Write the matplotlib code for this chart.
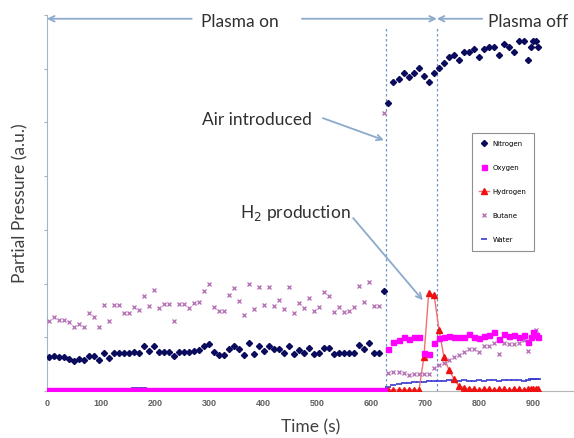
import numpy as np
import matplotlib
matplotlib.use("Agg")
import matplotlib.pyplot as plt

# sample times (s) before and after air was let in
t_before = [4, 13, 23, 32, 41, 50, 60, 69, 78, 87, 97, 106, 115, 124, 134, 143,
            152, 161, 171, 180, 189, 198, 208, 217, 226, 236, 245, 254, 263, 272,
            282, 291, 300, 309, 319, 328, 337, 346, 356, 365, 374, 383, 393, 402,
            411, 420, 430, 439, 448, 457, 467, 476, 485, 494, 504, 513, 522, 531,
            541, 550, 559, 568, 578, 587, 596, 605, 615, 624]
t_after = [632, 641, 651, 661, 670, 680, 689, 698, 707, 717, 726, 735, 744, 754,
           763, 772, 781, 791, 800, 809, 818, 828, 837, 846, 855, 865, 874, 883,
           891, 896, 900, 905, 909]

n2_before = [0.63, 0.65, 0.64, 0.64, 0.59, 0.565, 0.59, 0.58, 0.66, 0.65, 0.58, 0.70,
             0.61, 0.71, 0.71, 0.71, 0.71, 0.73, 0.71, 0.83, 0.75, 0.84, 0.73, 0.73,
             0.73, 0.66, 0.73, 0.73, 0.73, 0.75, 0.76, 0.83, 0.875, 0.73, 0.67, 0.67,
             0.78, 0.84, 0.78, 0.67, 0.89, 0.68, 0.84, 0.745, 0.84, 0.78, 0.78, 0.70,
             0.84, 0.68, 0.76, 0.70, 0.795, 0.68, 0.70, 0.795, 0.795, 0.68, 0.70, 0.70,
             0.70, 0.70, 0.86, 0.78, 0.89, 0.71, 0.71, 1.86]
n2_after = [5.36, 5.76, 5.80, 5.92, 5.85, 5.92, 6.01, 5.87, 5.76, 5.92, 6.01, 6.11,
            6.21, 6.26, 6.16, 6.31, 6.31, 6.36, 6.21, 6.36, 6.41, 6.41, 6.26, 6.46,
            6.41, 6.31, 6.52, 6.52, 6.16, 6.41, 6.52, 6.52, 6.41]

o2_before = [0.02, 0.01, 0.02, 0.02, 0.01, 0.02, 0.02, 0.01, 0.02, 0.02, 0.02, 0.01,
             0.02, 0.02, 0.01, 0.02, 0.02, 0.02, 0.01, 0.02, 0.02, 0.01, 0.02, 0.02,
             0.02, 0.01, 0.02, 0.02, 0.02, 0.01, 0.02, 0.02, 0.01, 0.02, 0.02, 0.02,
             0.01, 0.02, 0.02, 0.01, 0.02, 0.02, 0.02, 0.01, 0.02, 0.02, 0.01, 0.02,
             0.02, 0.02, 0.01, 0.02, 0.02, 0.01, 0.02, 0.02, 0.02, 0.01, 0.02, 0.02,
             0.01, 0.02, 0.02, 0.02, 0.01, 0.02, 0.02, 0.02]
o2_after = [0.79, 0.92, 0.95, 1.01, 0.96, 1.00, 1.01, 0.71, 0.69, 0.89, 0.98, 1.01,
            1.02, 1.01, 1.00, 1.01, 1.06, 1.01, 0.98, 1.02, 1.04, 1.10, 0.96, 1.06,
            1.02, 1.04, 1.01, 1.04, 0.92, 1.01, 1.09, 1.04, 1.00]

h2_after = [0.02, 0.02, 0.02, 0.02, 0.02, 0.02, 0.02, 0.63, 1.83, 1.78, 1.14, 0.64,
            0.40, 0.22, 0.09, 0.06, 0.04, 0.03, 0.02, 0.03, 0.03, 0.02, 0.03, 0.03,
            0.02, 0.03, 0.03, 0.02, 0.03, 0.04, 0.03, 0.03, 0.04]

c4_before = [1.31, 1.38, 1.32, 1.32, 1.29, 1.19, 1.25, 1.19, 1.46, 1.38, 1.20, 1.60,
             1.31, 1.60, 1.60, 1.46, 1.46, 1.57, 1.51, 1.76, 1.58, 1.88, 1.55, 1.62,
             1.62, 1.31, 1.62, 1.62, 1.54, 1.64, 1.66, 1.86, 2.00, 1.57, 1.49, 1.49,
             1.79, 1.91, 1.68, 1.42, 2.00, 1.52, 1.93, 1.60, 1.93, 1.58, 1.69, 1.52,
             1.93, 1.46, 1.64, 1.54, 1.74, 1.49, 1.57, 1.85, 1.76, 1.47, 1.57, 1.48,
             1.49, 1.57, 1.96, 1.66, 2.02, 1.58, 1.58, 5.18]
c4_after = [0.34, 0.36, 0.36, 0.34, 0.30, 0.31, 0.31, 0.31, 0.31, 0.42, 0.48, 0.52,
            0.58, 0.64, 0.67, 0.73, 0.78, 0.79, 0.73, 0.83, 0.84, 0.90, 0.69, 0.90,
            0.88, 0.88, 0.90, 0.95, 0.75, 0.98, 1.09, 1.14, 0.98]

h2o_before = [0.03, 0.03, 0.02, 0.03, 0.03, 0.03, 0.02, 0.03, 0.03, 0.03, 0.03, 0.02,
              0.03, 0.03, 0.03, 0.03, 0.04, 0.05, 0.05, 0.05, 0.04, 0.03, 0.03, 0.03,
              0.03, 0.02, 0.03, 0.03, 0.03, 0.03, 0.03, 0.02, 0.03, 0.03, 0.03, 0.03,
              0.03, 0.03, 0.02, 0.03, 0.03, 0.03, 0.03, 0.03, 0.03, 0.02, 0.03, 0.03,
              0.03, 0.03, 0.03, 0.03, 0.02, 0.03, 0.03, 0.03, 0.03, 0.03, 0.03, 0.02,
              0.03, 0.03, 0.03, 0.03, 0.03, 0.03, 0.03, 0.03]
h2o_after = [0.08, 0.11, 0.13, 0.14, 0.15, 0.16, 0.17, 0.17, 0.18, 0.19, 0.19, 0.19,
             0.20, 0.19, 0.19, 0.20, 0.19, 0.19, 0.20, 0.19, 0.20, 0.20, 0.19, 0.20,
             0.20, 0.21, 0.20, 0.19, 0.21, 0.22, 0.23, 0.23, 0.22]

t_air = 628
t_off = 722

t_all = np.array(t_before + t_after)

fig = plt.figure(figsize=(5.74, 4.38), dpi=100)
ax = fig.add_axes([47/574, 1 - 391/438, 1 - 47/574, 376/438])

ax.plot(t_all, h2o_before + h2o_after, ls='none', marker='_', ms=4, mew=1.2,
        color='#3a3ad0', label='Water', zorder=2)
ax.plot(t_all, n2_before + n2_after, ls='none', marker='D', ms=3.1,
        color='#0b0b5e', label='Nitrogen', zorder=3)
ax.plot(t_after, h2_after, ls='-', lw=1, color='#f47070', marker='^', ms=3.8,
        mfc='#ee1111', mec='#ee1111', label='Hydrogen', zorder=3)
ax.plot(t_all, o2_before + o2_after, ls='none', marker='s', ms=3.6,
        color='#ff00ff', label='Oxygen', zorder=4)
ax.plot(t_all, c4_before + c4_after, ls='none', marker='x', ms=3.5, mew=1,
        color='#b977b9', label='Butane', zorder=3)

# vertical markers: air in, plasma off
for tv in [t_air, t_off]:
    ax.plot([tv, tv], [0, 6.8], ls=(0, (2, 2)), lw=0.9, color='#6f96c4', zorder=1)

acol = '#8caacb'
ap = dict(arrowstyle='->', color=acol, lw=1.3, shrinkA=0, shrinkB=0)
ax.annotate('', xy=(0, 6.93), xytext=(268, 6.93), arrowprops=ap)
ax.annotate('', xy=(t_off, 6.93), xytext=(472, 6.93), arrowprops=ap)
ax.annotate('', xy=(t_off, 6.93), xytext=(806, 6.93), arrowprops=ap)

tf = dict(family='Lato', fontsize=12.5, color='#303030')
ax.text(357, 6.87, 'Plasma on', ha='center', va='center', **tf)
ax.text(891, 6.87, 'Plasma off', ha='center', va='center', **tf)
ax.text(389, 5.05, 'Air introduced', ha='center', va='center', **tf)
ax.annotate('', xy=(624, 4.67), xytext=(511, 5.08), arrowprops=ap)
ax.text(459, 3.31, 'H$_2$ production', ha='center', va='center', **tf)
ax.annotate('', xy=(696, 1.69), xytext=(567, 3.22), arrowprops=ap)

ax.set_xlim(0, 976)
ax.set_ylim(0, 7)
ax.set_xticks([0, 100, 200, 300, 400, 500, 600, 700, 800, 900])
ax.set_yticks([0, 1, 2, 3, 4, 5, 6, 7])
ax.set_yticklabels([])
ax.tick_params(axis='x', length=0, pad=6, labelsize=6.5, labelcolor='#606060')
ax.tick_params(axis='y', length=2, color='#b0b0b0', direction='out')
for lb in ax.get_xticklabels():
    lb.set_fontweight('bold')
    lb.set_family('Liberation Sans')

ax.spines['top'].set_visible(False)
ax.spines['right'].set_visible(False)
ax.spines['left'].set_color('#a3b6cd')
ax.spines['bottom'].set_color('#b5b5b5')

ax.set_xlabel('Time (s)', family='Lato', fontsize=12.5, color='#404040', labelpad=8)
ax.set_ylabel('Partial Pressure (a.u.)', family='Lato', fontsize=12.5,
              color='#404040', labelpad=8)

hd, lbl = ax.get_legend_handles_labels()
order = ['Nitrogen', 'Oxygen', 'Hydrogen', 'Butane', 'Water']
hd = [hd[lbl.index(n)] for n in order]
leg = ax.legend(hd, order, loc='upper left', bbox_to_anchor=(0.806, 0.686),
                borderaxespad=0, fontsize=5, labelspacing=2.6, handlelength=1.4,
                handletextpad=0.5, borderpad=1.1, fancybox=False,
                edgecolor='#909090', framealpha=1)
leg.get_frame().set_linewidth(0.8)

fig.savefig('out.png', dpi=100)
